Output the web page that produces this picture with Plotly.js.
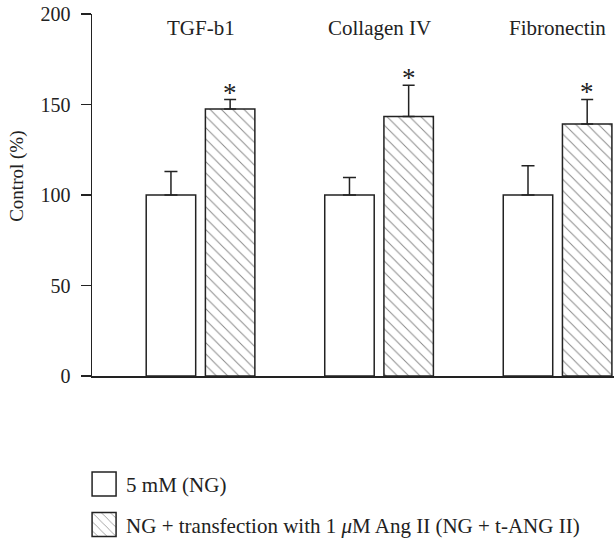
<!DOCTYPE html>
<html>
<head>
<meta charset="utf-8">
<script src="https://cdn.plot.ly/plotly-3.0.1.min.js"></script>
<style>
  html, body { margin: 0; padding: 0; background: #fff; }
  #chart { width: 614px; height: 543px; }
</style>
</head>
<body>
<div id="chart"></div>
<script>
// ---- data ----
const categories = ['TGF-b1', 'Collagen IV', 'Fibronectin'];
const ngValues = [100, 100, 100];
const ngErrors = [13, 9.7, 16.2];
const angValues = [147.5, 143.4, 139.2];
const angErrors = [5.2, 17.2, 13.6];
const seriesNames = ['5 mM (NG)', 'NG + transfection with 1 <i>\u03bc</i>M Ang II (NG + t-ANG II)'];
const significance = ['*', '*', '*'];
const yTickValues = [0, 50, 100, 150, 200];
const yTitle = 'Control (%)';

// ---- style ----
const FONT = 'Liberation Serif, Times New Roman, serif';
const INK = '#222';
const BARGAP = 0.337;
const BARGROUPGAP = 0.164;
const TXT = 21;

const traceNG = {
  type: 'bar', name: seriesNames[0], x: categories, y: ngValues,
  legendgroup: 'ng',
  marker: { color: '#ffffff', line: { color: INK, width: 1.5 } },
  error_y: { type: 'data', array: ngErrors, symmetric: false, arrayminus: ngErrors.map(() => 0),
             color: INK, thickness: 1.5, width: 6.5 }
};
const traceANG = {
  type: 'bar', name: seriesNames[1], x: categories, y: angValues,
  legendgroup: 'ang',
  marker: { color: '#ffffff', line: { color: INK, width: 1.5 },
            pattern: { shape: '\\', fgcolor: '#8a8a8a', bgcolor: '#ffffff', size: 8, solidity: 0.12 } },
  error_y: { type: 'data', array: angErrors, symmetric: false, arrayminus: angErrors.map(() => 0),
             color: INK, thickness: 1.5, width: 6 }
};

// offset of the second bar within each group, in category units
const slot = (1 - BARGAP) / 2;
const secondOffset = slot / 2;

const annotations = [];
categories.forEach((c, i) => {
  annotations.push({
    x: c, xref: 'x', y: 0.96, yref: 'paper', yanchor: 'middle', xanchor: 'center',
    text: c, showarrow: false, font: { family: FONT, size: TXT, color: INK }
  });
  annotations.push({
    x: i + secondOffset, xref: 'x', y: angValues[i] + angErrors[i], yref: 'y',
    yanchor: 'bottom', xanchor: 'center', yshift: -10,
    text: significance[i], showarrow: false, font: { family: FONT, size: 27, color: INK }
  });
});
annotations.push({
  x: -0.1437, xref: 'paper', y: 0.553, yref: 'paper', xanchor: 'center', yanchor: 'middle',
  text: yTitle, textangle: -90, showarrow: false, font: { family: FONT, size: 19, color: INK }
});

const layout = {
  width: 614, height: 543,
  margin: { l: 92, r: 0, t: 14, b: 167, autoexpand: false },
  paper_bgcolor: '#fff', plot_bgcolor: '#fff',
  barmode: 'group', bargap: BARGAP, bargroupgap: BARGROUPGAP,
  font: { family: FONT, size: TXT, color: INK },
  xaxis: {
    type: 'category', range: [-0.608, 2.316],
    showline: true, linecolor: INK, linewidth: 1.5,
    showticklabels: false, ticks: '', showgrid: false, zeroline: false, fixedrange: true
  },
  yaxis: {
    range: [0, 200], tickvals: yTickValues, ticktext: yTickValues.map(String),
    ticks: 'outside', ticklen: 10, tickwidth: 1.5, tickcolor: INK,
    ticklabelstandoff: 6,
    showline: true, linecolor: INK, linewidth: 1.5,
    showgrid: false, zeroline: false, fixedrange: true,
    tickfont: { family: FONT, size: 20, color: INK }
  },
  showlegend: true,
  legend: {
    x: -0.019, xanchor: 'left', y: -0.243, yanchor: 'top',
    traceorder: 'grouped', tracegroupgap: 10, itemwidth: 34,
    bgcolor: 'rgba(0,0,0,0)', borderwidth: 0,
    font: { family: FONT, size: TXT, color: INK }
  },
  annotations: annotations
};

Plotly.newPlot('chart', [traceNG, traceANG], layout, { displayModeBar: false, staticPlot: true })
  .then(gd => {
    // enlarge legend swatches to the square boxes of the reference
    gd.querySelectorAll('.legend .legendpoints path').forEach(p => {
      p.setAttribute('d', 'M12,12H-12V-12H12Z');
    });
  });
</script>
</body>
</html>
